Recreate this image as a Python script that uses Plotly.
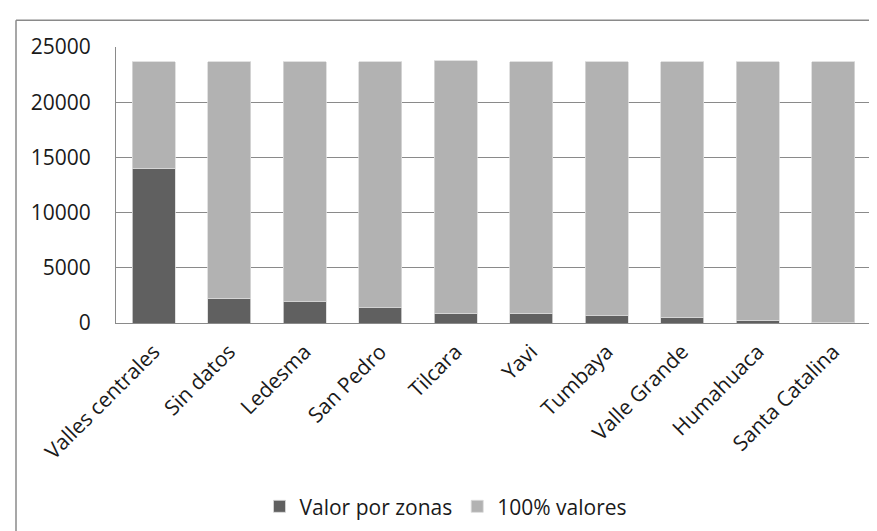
import plotly.graph_objects as go

categories = ["Valles centrales", "Sin datos", "Ledesma", "San Pedro", "Tilcara",
              "Yavi", "Tumbaya", "Valle Grande", "Humahuaca", "Santa Catalina"]
valor_por_zonas = [14000, 2220, 1920, 1380, 870, 870, 660, 540, 240, 20]
cien_valores = [9650, 21430, 21730, 22270, 22870, 22780, 22990, 23110, 23410, 23630]
y_ticks = [0, 5000, 10000, 15000, 20000, 25000]

FONT = "Open Sans"
W, H = 877, 531
L, R, T, B = 108, 14, 39, 214
pw, ph = W - L - R, H - T - B

fig = go.Figure()
fig.add_trace(go.Bar(x=categories, y=valor_por_zonas, name="Valor por zonas",
                     marker=dict(color="#606060", line=dict(color="#d9d9d9", width=0.8))))
fig.add_trace(go.Bar(x=categories, y=cien_valores, name="100% valores",
                     marker=dict(color="#b2b2b2", line=dict(color="#d9d9d9", width=0.8))))

def px_x(p):
    return (p - L) / pw

def px_y(p):
    return (H - B - p) / ph

border = "#8a8a8a"
shapes = [
    dict(type="line", xref="paper", yref="paper", x0=px_x(8), x1=px_x(W + 5),
         y0=px_y(12), y1=px_y(12), line=dict(color=border, width=1.5)),
    dict(type="line", xref="paper", yref="paper", x0=px_x(8), x1=px_x(8),
         y0=px_y(12), y1=px_y(H + 5), line=dict(color=border, width=1.5)),
]

fig.update_layout(
    barmode="stack",
    bargap=0.425,
    width=W, height=H,
    margin=dict(l=L, r=R, t=T, b=B, pad=0),
    paper_bgcolor="white",
    plot_bgcolor="white",
    font=dict(family=FONT, color="#1a1a1a", size=20),
    shapes=shapes,
    legend=dict(orientation="h", x=px_x(438), xanchor="center",
                y=px_y(502), yanchor="middle",
                font=dict(family=FONT, size=21, color="#1a1a1a"),
                traceorder="normal", itemwidth=30),
    xaxis=dict(showline=True, linecolor="#8a8a8a", linewidth=1.2,
               tickangle=-45, tickfont=dict(family=FONT, size=21),
               showgrid=False, ticks="", ticklabelstandoff=7),
    yaxis=dict(range=[0, 25000], tickvals=y_ticks, tickformat="d",
               showline=True, linecolor="#8a8a8a", linewidth=1.2,
               showgrid=True, gridcolor="#8a8a8a", gridwidth=1.2,
               zeroline=False, ticks="", ticklabelstandoff=20,
               tickfont=dict(family=FONT, size=21)),
)

fig.write_html("out.html")
